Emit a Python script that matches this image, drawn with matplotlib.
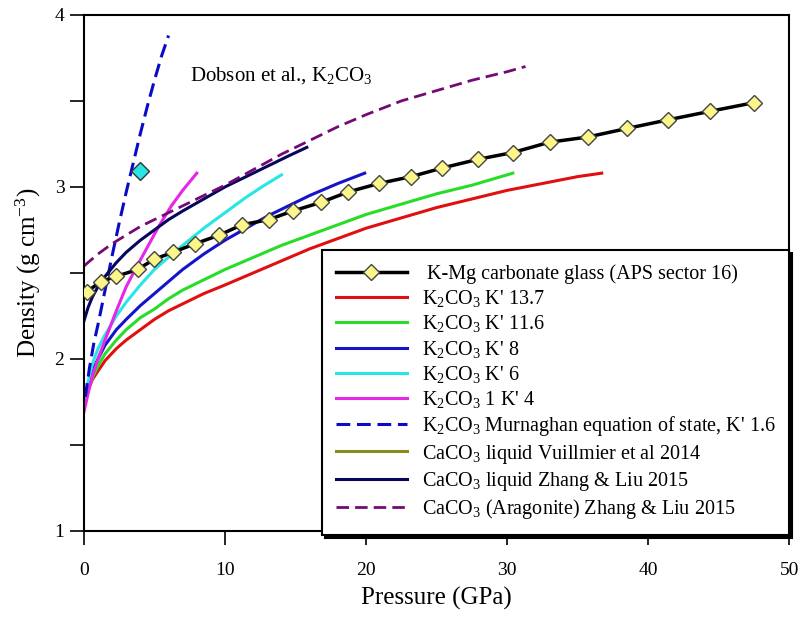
import numpy as np
import matplotlib.pyplot as plt

plt.rcParams["font.family"] = ["Liberation Serif", "DejaVu Serif"]
plt.rcParams["mathtext.fontset"] = "custom"
plt.rcParams["mathtext.rm"] = "Liberation Serif"
plt.rcParams["mathtext.default"] = "regular"

# K-Mg carbonate glass (APS sector 16)
glass_p = [0.2, 1.2, 2.3, 3.8, 5.0, 6.3, 7.9, 9.6, 11.2, 13.1, 14.8, 16.8,
           18.7, 20.9, 23.2, 25.4, 27.9, 30.4, 33.0, 35.7, 38.5, 41.4, 44.4, 47.5]
glass_rho = [2.39, 2.45, 2.48, 2.52, 2.58, 2.62, 2.67, 2.72, 2.78, 2.81, 2.86, 2.91,
             2.97, 3.02, 3.06, 3.11, 3.16, 3.20, 3.26, 3.29, 3.34, 3.39, 3.44, 3.49]

# K2CO3 curves for different K'
k137_p = [0.0, 0.3, 0.6, 1.0, 1.5, 2.3, 3.0, 4.0, 5.0, 6.0, 7.0, 8.5, 10, 12, 14,
          16, 18, 20, 22.5, 25, 27.5, 30, 32.5, 35, 36.7]
k137_rho = [1.72, 1.82, 1.88, 1.93, 1.99, 2.06, 2.11, 2.17, 2.23, 2.28, 2.32, 2.38,
            2.43, 2.50, 2.57, 2.64, 2.70, 2.76, 2.82, 2.88, 2.93, 2.98, 3.02, 3.06, 3.08]

k116_p = [0.0, 0.3, 0.6, 1.0, 1.5, 2.3, 3.0, 4.0, 5.0, 6.0, 7.0, 8.5, 10, 12, 14,
          16, 18, 20, 22.5, 25, 27.5, 30.4]
k116_rho = [1.72, 1.83, 1.89, 1.96, 2.03, 2.11, 2.17, 2.24, 2.29, 2.35, 2.40, 2.46,
            2.52, 2.59, 2.66, 2.72, 2.78, 2.84, 2.90, 2.96, 3.01, 3.08]

k8_p = [0.0, 0.3, 0.6, 1.0, 1.5, 2.3, 3.0, 4.0, 5.0, 6.0, 7.0, 8.5, 10, 11.5, 13,
        14.5, 16, 18, 19.9]
k8_rho = [1.72, 1.85, 1.93, 2.00, 2.08, 2.17, 2.23, 2.31, 2.38, 2.45, 2.52, 2.61,
          2.69, 2.76, 2.83, 2.89, 2.95, 3.02, 3.08]

k6_p = [0.0, 0.3, 0.6, 1.0, 1.5, 2.3, 3.0, 4.0, 5.0, 6.4, 7.0, 8.5, 10, 11.5, 12.8, 14.0]
k6_rho = [1.72, 1.87, 1.97, 2.06, 2.14, 2.25, 2.33, 2.43, 2.52, 2.62, 2.66, 2.76,
          2.85, 2.94, 3.01, 3.07]

k4_p = [0.0, 0.3, 0.6, 1.0, 1.5, 2.3, 3.0, 3.7, 4.5, 5.3, 6.2, 7.0, 8.0]
k4_rho = [1.69, 1.80, 1.90, 2.00, 2.11, 2.28, 2.42, 2.53, 2.65, 2.77, 2.89, 2.98, 3.08]

murn_p = [0.1, 0.4, 0.7, 1.0, 1.5, 2.0, 2.5, 3.0, 3.5, 4.0, 4.5, 5.0, 5.5, 6.0]
murn_rho = [1.78, 1.95, 2.09, 2.20, 2.40, 2.60, 2.79, 2.97, 3.14, 3.31, 3.47, 3.62,
            3.76, 3.88]

# CaCO3
zl_liq_p = [0.0, 0.3, 0.6, 1.0, 1.5, 2.3, 3.0, 4.0, 5.0, 6.0, 7.0, 8.5, 10, 11.5,
            13, 14.5, 15.8]
zl_liq_rho = [2.22, 2.30, 2.36, 2.42, 2.48, 2.56, 2.62, 2.69, 2.75, 2.81, 2.86, 2.93,
              3.00, 3.06, 3.12, 3.18, 3.23]

arag_p = [0.0, 1.0, 2.0, 3.0, 4.0, 5.0, 6.5, 8.0, 10, 12, 14, 16, 18, 20, 22.5, 25,
          27.5, 30, 31.3]
arag_rho = [2.54, 2.61, 2.67, 2.72, 2.77, 2.81, 2.87, 2.93, 3.01, 3.10, 3.19, 3.27,
            3.35, 3.42, 3.50, 3.56, 3.62, 3.67, 3.70]

# Dobson et al. point
dobson_p = [4.0]
dobson_rho = [3.09]

K2 = "K$_2$CO$_3$"
Ca = "CaCO$_3$"

fig = plt.figure(figsize=(7.99, 6.21), dpi=100)
ax = fig.add_axes([0.105, 0.145, 0.883, 0.831])

ax.plot(glass_p, glass_rho, color="black", lw=2.5, marker="D", markersize=8,
        markerfacecolor="#fbf58a", markeredgecolor="#444444", markeredgewidth=1,
        label=" K-Mg carbonate glass (APS sector 16)", zorder=5)
ax.plot(k137_p, k137_rho, color="#e01010", lw=2.2, label=K2 + " K' 13.7")
ax.plot(k116_p, k116_rho, color="#28dc28", lw=2.2, label=K2 + " K' 11.6")
ax.plot(k8_p, k8_rho, color="#1414c8", lw=2.2, label=K2 + " K' 8")
ax.plot(k6_p, k6_rho, color="#28e6e6", lw=2.2, label=K2 + " K' 6")
ax.plot(k4_p, k4_rho, color="#e628e6", lw=2.2, label=K2 + " 1 K' 4")
ax.plot(murn_p, murn_rho, color="#0a0ac8", lw=2.2, ls=(0, (4.5, 2.2)),
        label=K2 + " Murnaghan equation of state, K' 1.6")
ax.plot([], [], color="#8a8a1e", lw=2.2, label=Ca + " liquid Vuillmier et al 2014")
ax.plot(zl_liq_p, zl_liq_rho, color="#06065e", lw=2.2, label=Ca + " liquid Zhang & Liu 2015")
ax.plot(arag_p, arag_rho, color="#740a74", lw=2.0, ls=(0, (4.5, 2.2)),
        label=Ca + " (Aragonite) Zhang & Liu 2015")
ax.plot(dobson_p, dobson_rho, ls="none", marker="D", markersize=9,
        markerfacecolor="#28e6e6", markeredgecolor="#333333", markeredgewidth=1, zorder=6)

ax.text(7.5, 3.65, "Dobson et al., " + K2, fontsize=15, va="center", ha="left")

ax.set_xlim(0, 50)
ax.set_ylim(1, 4)
ax.set_xticks([0, 10, 20, 30, 40, 50])
ax.set_yticks([1, 2, 3, 4])
ax.set_yticks([1.5, 2.5, 3.5], minor=True)
ax.tick_params(axis="both", which="both", direction="out", length=10, width=1.2,
               labelsize=14)
ax.tick_params(axis="x", pad=12)
ax.tick_params(axis="y", pad=4)
for s in ax.spines.values():
    s.set_linewidth(1.5)

ax.set_xlabel("Pressure (GPa)", fontsize=18, labelpad=6)
ax.set_ylabel("Density (g cm$^{-3}$)", fontsize=18, labelpad=8)

leg = ax.legend(loc="lower right", bbox_to_anchor=(1.0, -0.008), borderaxespad=0,
                fontsize=14.5, handlelength=3.5, handletextpad=0.75, labelspacing=0.21,
                frameon=True, fancybox=False, edgecolor="black", borderpad=0.7,
                shadow={"color": "black", "alpha": 1.0, "ox": 2, "oy": -2})
leg.get_frame().set_linewidth(1.5)
leg.get_frame().set_alpha(1)

fig.savefig("out.png", dpi=100)
